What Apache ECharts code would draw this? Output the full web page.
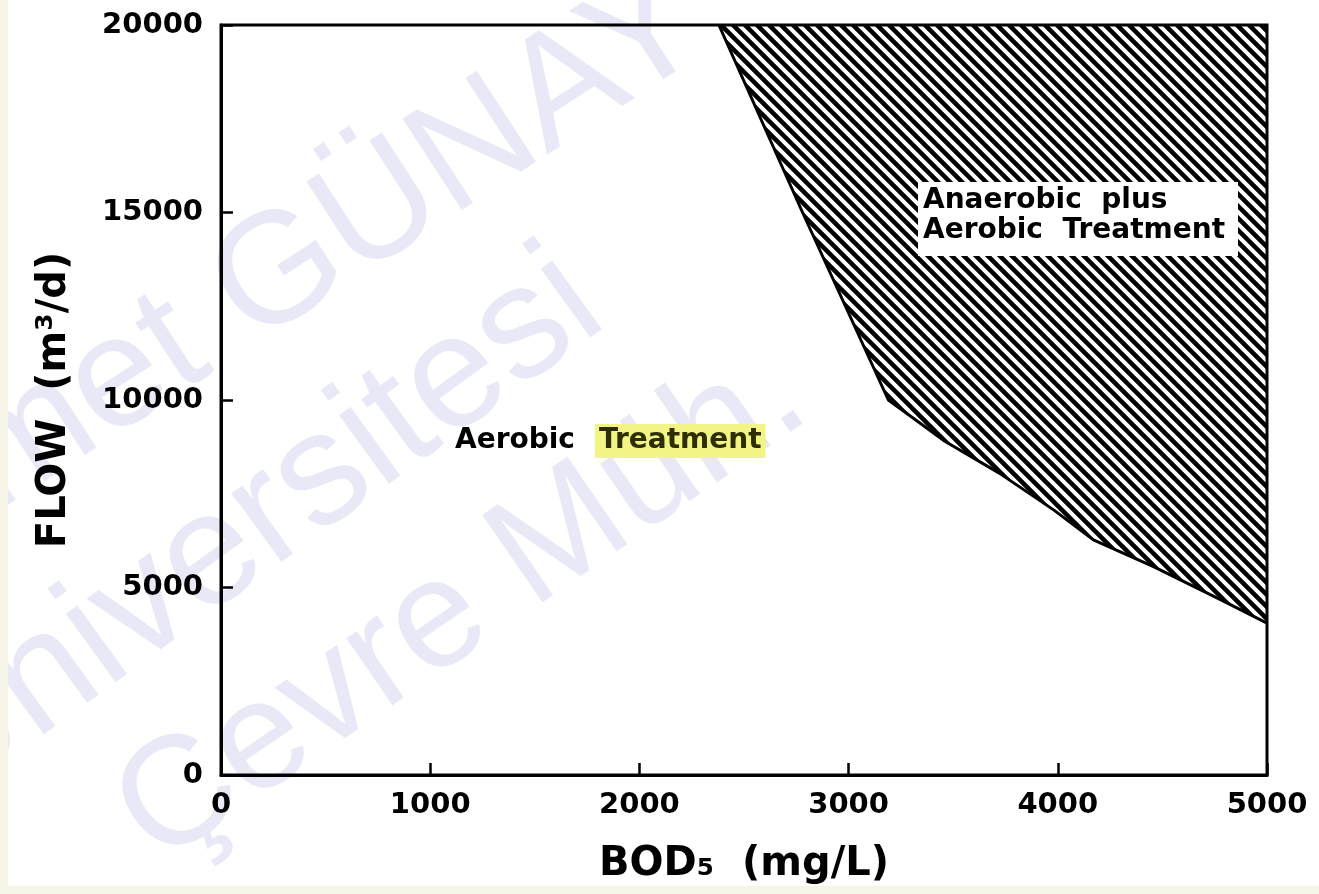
<!DOCTYPE html>
<html>
<head>
<meta charset="utf-8">
<title>Aerobic vs. anaerobic plus aerobic treatment</title>
<script src="https://cdn.jsdelivr.net/npm/echarts@6/dist/echarts.min.js"></script>
<style>
  html, body { margin: 0; padding: 0; background: #ffffff; }
  #chart { width: 1319px; height: 894px; }
</style>
</head>
<body>
<div id="chart"></div>
<script>
// Axis ranges and tick labels
const bodTicks = [0, 1000, 2000, 3000, 4000, 5000];      // BOD5, mg/L
const flowTicks = [0, 5000, 10000, 15000, 20000];        // flow, m3/d

// Boundary between the two treatment regions: [BOD5 (mg/L), flow (m3/d)]
const boundaryBod  = [2380, 2780, 3190, 3460, 3720, 3980, 4170, 4460, 4780, 5000];
const boundaryFlow = [20000, 15000, 10000, 8900, 8050, 7070, 6270, 5550, 4670, 4050];

// Region labels
const regionLower = ['Aerobic', 'Treatment'];
const regionUpper = ['Anaerobic  plus', 'Aerobic  Treatment'];

// Axis titles
const xTitle = 'BOD₅  (mg/L)';
const yTitle = 'FLOW  (m³/d)';

// Faint overprinted text
const stampLines = ['Ahmet GÜNAY', 'Üniversitesi', 'Çevre Müh.'];

// Diagonal "\\" hatch (transparent gaps) for the anaerobic-plus-aerobic region
function hatchPattern(size, width) {
  const c = document.createElement('canvas');
  c.width = size; c.height = size;
  const g = c.getContext('2d');
  g.strokeStyle = '#000000';
  g.lineWidth = width;
  g.beginPath();
  for (let k = -1; k <= 1; k++) {
    g.moveTo(-size, -size + k * size);
    g.lineTo(2 * size, 2 * size + k * size);
  }
  g.stroke();
  return c;
}

const boundaryData = boundaryBod.map((b, i) => [b, boundaryFlow[i]]);
const FONT = 'DejaVu Sans';
const DEG = Math.PI / 180;

const chart = echarts.init(document.getElementById('chart'), null, { renderer: 'canvas' });

// faint lettering kept underneath every chart layer
function stamp(text, x, y, angle, size, align) {
  return {
    type: 'text', z: 0, silent: true,
    x: x, y: y, rotation: angle * DEG,
    style: {
      text: text,
      fill: '#e8e8f7',
      font: 'normal ' + size + 'px "Liberation Sans", Arial, sans-serif',
      align: align,
      verticalAlign: 'middle'
    }
  };
}

const axisCommon = {
  type: 'value',
  z: 6,
  nameLocation: 'middle',
  nameTextStyle: { fontFamily: FONT, fontWeight: 'bold', fontSize: 40, color: '#000' },
  axisLine: { show: true, lineStyle: { color: '#000', width: 3 } },
  axisTick: { show: true, inside: true, length: 12, lineStyle: { color: '#000', width: 2.5 } },
  splitLine: { show: false }
};

chart.setOption({
  animation: false,
  backgroundColor: '#ffffff',
  grid: {
    left: 221, right: 52, top: 25, bottom: 119,
    show: true, borderColor: '#000', borderWidth: 3,
    backgroundColor: 'transparent',
    z: 5,
    containLabel: false
  },
  xAxis: Object.assign({}, axisCommon, {
    min: bodTicks[0], max: bodTicks[bodTicks.length - 1],
    interval: bodTicks[1] - bodTicks[0],
    name: xTitle,
    nameGap: 70,
    axisLabel: {
      margin: 16, fontFamily: FONT, fontWeight: 'bold', fontSize: 29, color: '#000',
      formatter: v => String(v)
    }
  }),
  yAxis: Object.assign({}, axisCommon, {
    min: flowTicks[0], max: flowTicks[flowTicks.length - 1],
    interval: flowTicks[1] - flowTicks[0],
    name: yTitle,
    nameRotate: 90,
    nameGap: 146,
    axisLabel: {
      margin: 18, fontFamily: FONT, fontWeight: 'bold', fontSize: 29, color: '#000',
      formatter: v => String(v)
    }
  }),
  series: [{
    type: 'line',
    data: boundaryData,
    showSymbol: false,
    smooth: false,
    z: 3,
    lineStyle: { color: '#000', width: 3 },
    areaStyle: {
      origin: 'end',
      opacity: 1,
      color: { image: hatchPattern(12, 4.5), repeat: 'repeat' }
    }
  }],
  graphic: [
    // faint overprint
    stamp(stampLines[0], 690, 10, 33, 158, 'right'),
    stamp(stampLines[1], 250, 530, 36, 160, 'center'),
    stamp(stampLines[2], 462, 606, 34.5, 154, 'center'),
    // cleared box behind the upper region label
    {
      type: 'rect', z: 50,
      shape: { x: 918, y: 182, width: 320, height: 74 },
      style: { fill: '#ffffff' }
    },
    {
      type: 'text', z: 60,
      x: 923, y: 186,
      style: {
        text: regionUpper.join('\n'),
        font: 'bold 28px "DejaVu Sans"',
        lineHeight: 30,
        fill: '#000',
        align: 'left',
        verticalAlign: 'top'
      }
    },
    {
      type: 'text', z: 60,
      x: 455, y: 441,
      style: {
        text: '{a|' + regionLower[0] + '}{h|' + regionLower[1] + '}',
        align: 'left',
        verticalAlign: 'middle',
        rich: {
          a: { font: 'bold 28px "DejaVu Sans"', fill: '#000', padding: [0, 20, 0, 0] },
          h: {
            font: 'bold 28px "DejaVu Sans"', fill: '#2e2e00',
            backgroundColor: '#f2f585', padding: [3, 4, 3, 4]
          }
        }
      }
    },
    // paper edge tint
    { type: 'rect', z: 120, silent: true, shape: { x: 0, y: 0, width: 8, height: 894 }, style: { fill: '#f6f3e7' } },
    { type: 'rect', z: 120, silent: true, shape: { x: 0, y: 886, width: 1319, height: 8 }, style: { fill: '#f6f3e7' } }
  ]
});
</script>
</body>
</html>
